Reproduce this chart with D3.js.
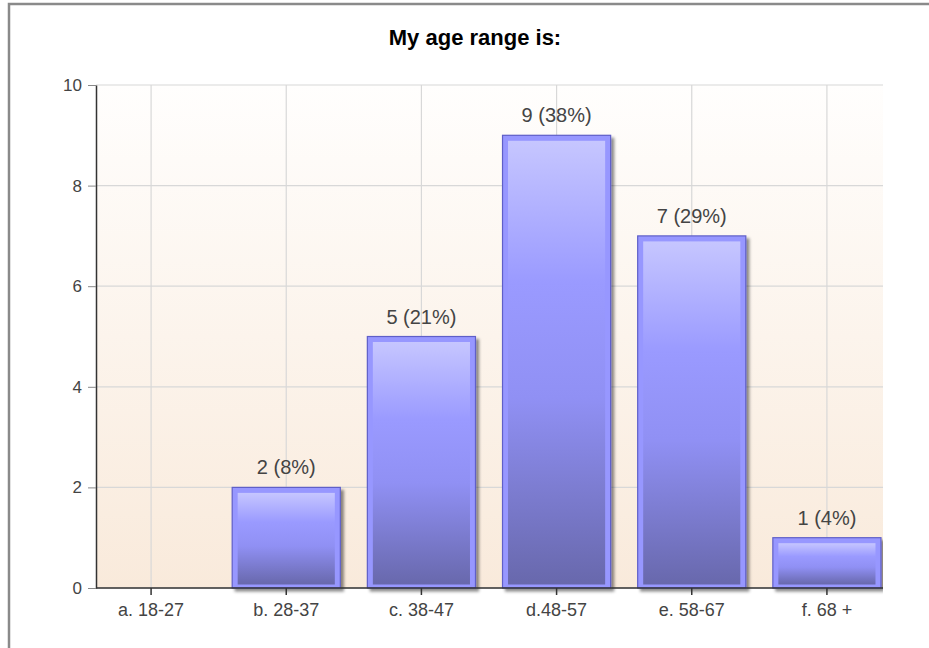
<!DOCTYPE html>
<html>
<head>
<meta charset="utf-8">
<script src="https://cdn.jsdelivr.net/npm/d3@7"></script>
<style>
  body { margin: 0; background: #fff; }
  svg { display: block; font-family: Arial, "Liberation Sans", sans-serif; }
</style>
</head>
<body>
<svg id="chart" width="929" height="648"></svg>
<script>
// data
var categories = ["a. 18-27", "b. 28-37", "c. 38-47", "d.48-57", "e. 58-67", "f. 68 +"];
var counts = [0, 2, 5, 9, 7, 1];
var percents = [0, 8, 21, 38, 29, 4];
var yTicks = [0, 2, 4, 6, 8, 10];
var chartTitle = "My age range is:";

var width = 929, height = 648;
var plotLeft = 96, plotRight = 883, plotTop = 85, plotBottom = 588;

var svg = d3.select('#chart');

var defs = svg.append("defs");

// background gradient of the plot area
var bg = defs.append("linearGradient")
    .attr("id", "bgGrad")
    .attr("x1", 0).attr("y1", 0).attr("x2", 0).attr("y2", 1);
bg.append("stop").attr("offset", "0%").attr("stop-color", "#fffefd");
bg.append("stop").attr("offset", "100%").attr("stop-color", "#f9eadb");

// inner gradient of the bars
var barGrad = defs.append("linearGradient")
    .attr("id", "barGrad")
    .attr("x1", 0).attr("y1", 0).attr("x2", 0).attr("y2", 1);
barGrad.append("stop").attr("offset", "0%").attr("stop-color", "#c6c6ff");
barGrad.append("stop").attr("offset", "32%").attr("stop-color", "#9a9aff");
barGrad.append("stop").attr("offset", "58%").attr("stop-color", "#9090f4");
barGrad.append("stop").attr("offset", "100%").attr("stop-color", "#6868ac");

var shadow = defs.append("filter")
    .attr("id", "shadow")
    .attr("x", "-10%").attr("y", "-10%").attr("width", "130%").attr("height", "130%");
shadow.append("feDropShadow")
    .attr("dx", 3).attr("dy", 3).attr("stdDeviation", 1.8)
    .attr("flood-color", "#000").attr("flood-opacity", 0.45);

defs.append("clipPath").attr("id", "plotClip")
  .append("rect")
    .attr("x", plotLeft).attr("y", plotTop - 2)
    .attr("width", plotRight - plotLeft).attr("height", plotBottom - plotTop + 10);

// outer frame
svg.append("path")
    .attr("d", "M9,648 V4 H929")
    .attr("fill", "none")
    .attr("stroke", "#8a8a8a")
    .attr("stroke-width", 2.5);

// title
svg.append("text")
    .attr("x", 475)
    .attr("y", 45)
    .attr("text-anchor", "middle")
    .attr("font-size", 22)
    .attr("font-weight", "bold")
    .attr("fill", "#000")
    .text(chartTitle);

var x = d3.scaleBand()
    .domain(categories)
    .range([83.5, 894.5])
    .paddingInner(0.2)
    .paddingOuter(0.1);

var y = d3.scaleLinear()
    .domain([0, 10])
    .range([plotBottom, plotTop]);

// plot background
svg.append("rect")
    .attr("x", plotLeft).attr("y", plotTop)
    .attr("width", plotRight - plotLeft).attr("height", plotBottom - plotTop)
    .attr("fill", "url(#bgGrad)");

// grid lines
var grid = svg.append("g").attr("clip-path", "url(#plotClip)");
grid.selectAll("line.h")
    .data(yTicks)
    .enter().append("line")
        .attr("class", "h")
        .attr("x1", plotLeft).attr("x2", plotRight)
        .attr("y1", function(d) { return y(d); })
        .attr("y2", function(d) { return y(d); })
        .attr("stroke", "#d8d8d8")
        .attr("stroke-width", 1.2);
grid.selectAll("line.v")
    .data(categories)
    .enter().append("line")
        .attr("class", "v")
        .attr("x1", function(d) { return x(d) + x.bandwidth()/2; })
        .attr("x2", function(d) { return x(d) + x.bandwidth()/2; })
        .attr("y1", plotTop).attr("y2", plotBottom)
        .attr("stroke", "#d8d8d8")
        .attr("stroke-width", 1.2);

// bars
var barData = categories.map(function(c, i) { return {cat: c, value: counts[i], pct: percents[i]}; })
    .filter(function(d) { return d.value > 0; });

var bars = svg.append("g").attr("clip-path", "url(#plotClip)")
    .selectAll("g.bar")
    .data(barData)
    .enter().append("g")
        .attr("class", "bar");

bars.append("rect")
    .attr("x", function(d) { return x(d.cat); })
    .attr("y", function(d) { return y(d.value); })
    .attr("width", x.bandwidth())
    .attr("height", function(d) { return y(0) - y(d.value); })
    .attr("fill", "#9797ff")
    .attr("stroke", "#5f5fc8")
    .attr("stroke-width", 1.2)
    .attr("filter", "url(#shadow)");

bars.append("rect")
    .attr("x", function(d) { return x(d.cat) + 5.5; })
    .attr("y", function(d) { return y(d.value) + 5.5; })
    .attr("width", x.bandwidth() - 11)
    .attr("height", function(d) { return y(0) - y(d.value) - 9; })
    .attr("fill", "url(#barGrad)");

// value labels
svg.selectAll("text.val")
    .data(barData)
    .enter().append("text")
        .attr("class", "val")
        .attr("x", function(d) { return x(d.cat) + x.bandwidth()/2; })
        .attr("y", function(d) { return y(d.value) - 13; })
        .attr("text-anchor", "middle")
        .attr("font-size", 20)
        .attr("fill", "#444")
        .text(function(d) { return d.value + " (" + d.pct + "%)"; });

// axes
var xAxis = svg.append("g")
    .attr("transform", "translate(0," + plotBottom + ")")
    .call(d3.axisBottom(x).tickSize(7).tickSizeOuter(0).tickPadding(8));
xAxis.select(".domain").remove();
xAxis.append("line")
    .attr("x1", plotLeft).attr("x2", plotRight)
    .attr("stroke", "#333").attr("stroke-width", 1.5);
xAxis.selectAll(".tick line").attr("stroke", "#333").attr("stroke-width", 1.5);
xAxis.selectAll(".tick text")
    .attr("font-size", 18)
    .attr("font-family", "Arial, 'Liberation Sans', sans-serif")
    .attr("fill", "#444");

var yAxis = svg.append("g")
    .attr("transform", "translate(" + plotLeft + ",0)")
    .call(d3.axisLeft(y).tickValues(yTicks).tickSize(8).tickSizeOuter(0).tickPadding(6));
yAxis.select(".domain").attr("stroke", "#333").attr("stroke-width", 1.5);
yAxis.selectAll(".tick line").attr("stroke", "#888");
yAxis.selectAll(".tick text")
    .attr("font-size", 17)
    .attr("font-family", "Arial, 'Liberation Sans', sans-serif")
    .attr("fill", "#444");
</script>
</body>
</html>
